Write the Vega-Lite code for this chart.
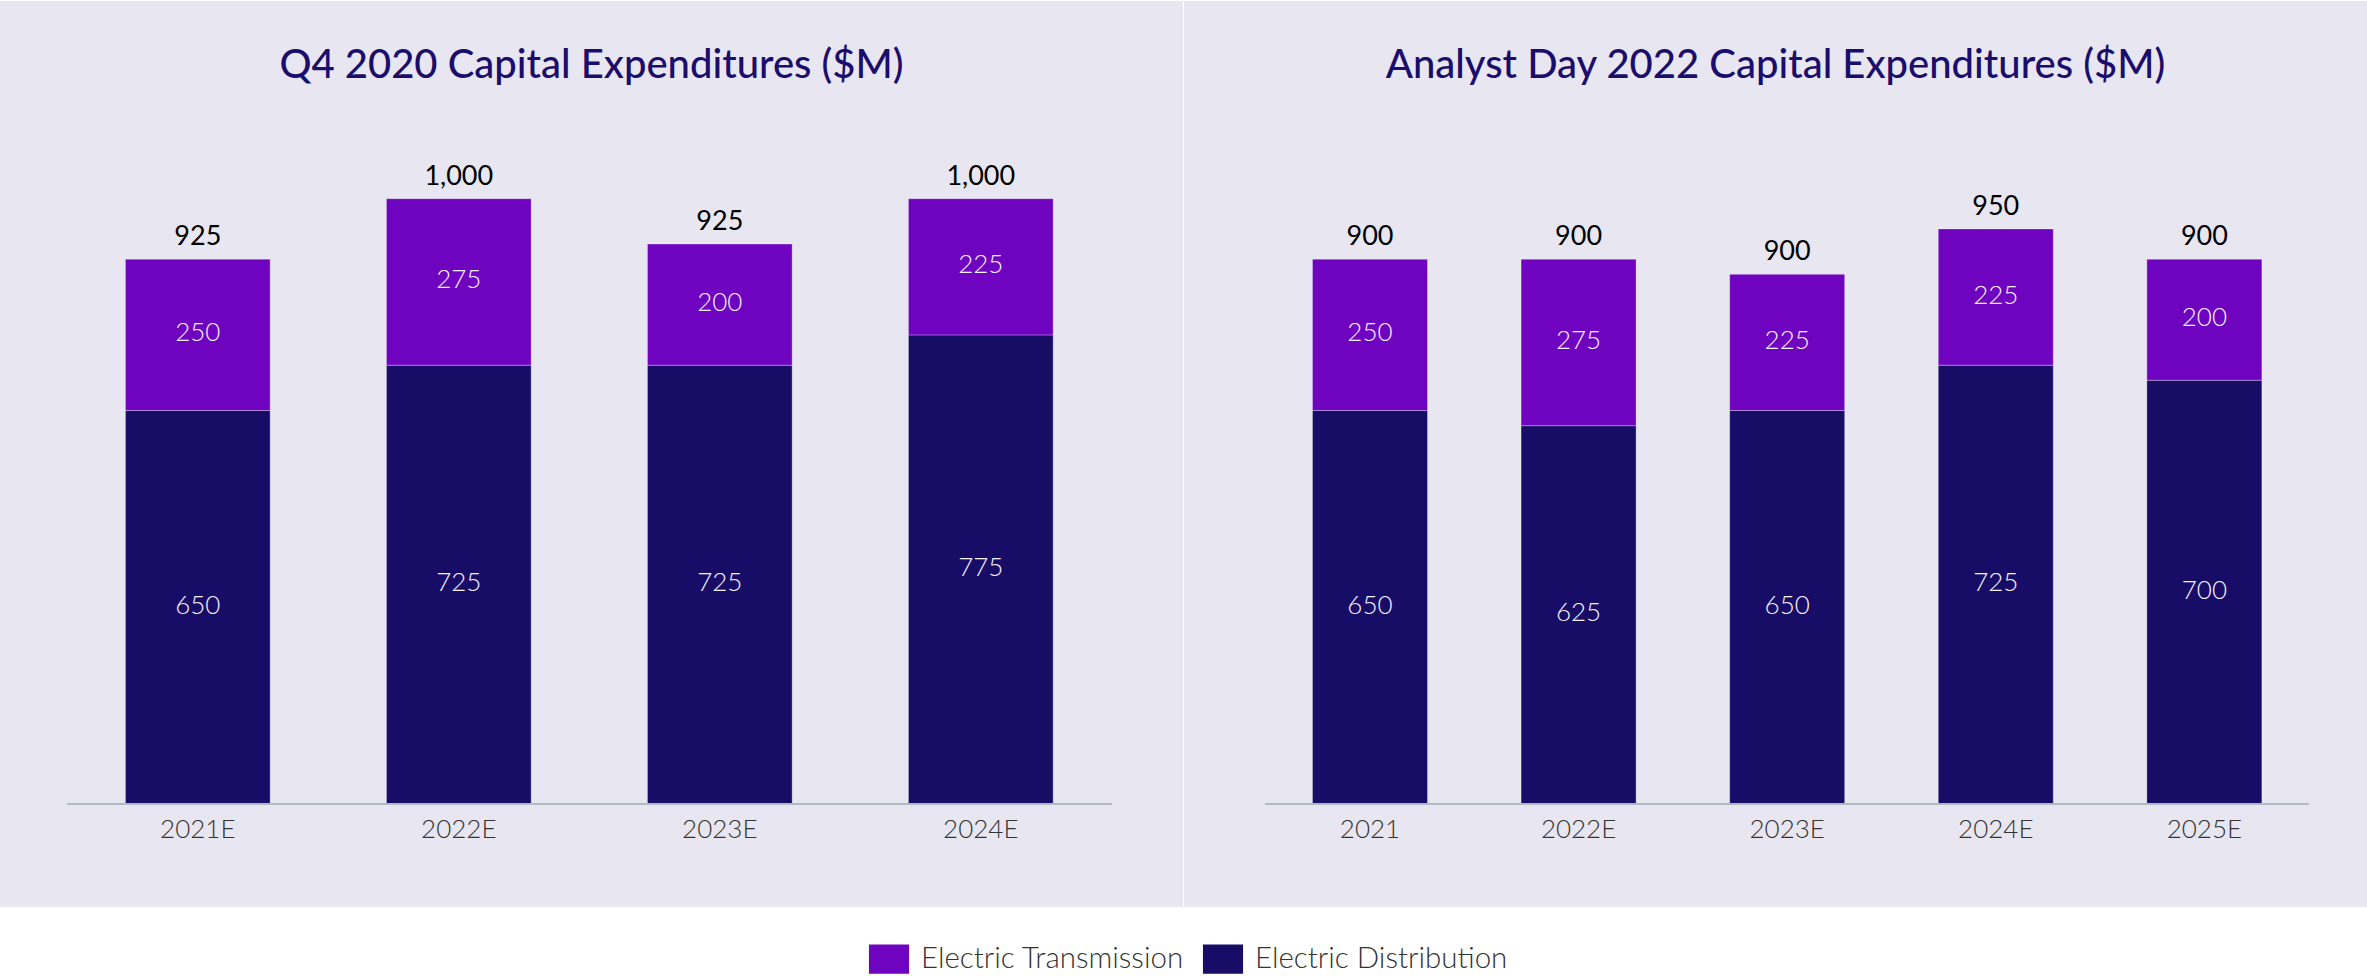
{
  "$schema": "https://vega.github.io/schema/vega-lite/v6.json",
  "padding": {"top": 1, "left": 0, "right": 0, "bottom": 0},
  "background": "#ffffff",
  "datasets": {
    "capex": [
      {"source": "Q4 2020", "year": "2021E", "segment": "Electric Distribution", "value": 650, "total": 925},
      {"source": "Q4 2020", "year": "2021E", "segment": "Electric Transmission", "value": 250, "total": 925},
      {"source": "Q4 2020", "year": "2022E", "segment": "Electric Distribution", "value": 725, "total": 1000},
      {"source": "Q4 2020", "year": "2022E", "segment": "Electric Transmission", "value": 275, "total": 1000},
      {"source": "Q4 2020", "year": "2023E", "segment": "Electric Distribution", "value": 725, "total": 925},
      {"source": "Q4 2020", "year": "2023E", "segment": "Electric Transmission", "value": 200, "total": 925},
      {"source": "Q4 2020", "year": "2024E", "segment": "Electric Distribution", "value": 775, "total": 1000},
      {"source": "Q4 2020", "year": "2024E", "segment": "Electric Transmission", "value": 225, "total": 1000},
      {"source": "Analyst Day 2022", "year": "2021", "segment": "Electric Distribution", "value": 650, "total": 900},
      {"source": "Analyst Day 2022", "year": "2021", "segment": "Electric Transmission", "value": 250, "total": 900},
      {"source": "Analyst Day 2022", "year": "2022E", "segment": "Electric Distribution", "value": 625, "total": 900},
      {"source": "Analyst Day 2022", "year": "2022E", "segment": "Electric Transmission", "value": 275, "total": 900},
      {"source": "Analyst Day 2022", "year": "2023E", "segment": "Electric Distribution", "value": 650, "total": 900},
      {"source": "Analyst Day 2022", "year": "2023E", "segment": "Electric Transmission", "value": 225, "total": 900},
      {"source": "Analyst Day 2022", "year": "2024E", "segment": "Electric Distribution", "value": 725, "total": 950},
      {"source": "Analyst Day 2022", "year": "2024E", "segment": "Electric Transmission", "value": 225, "total": 950},
      {"source": "Analyst Day 2022", "year": "2025E", "segment": "Electric Distribution", "value": 700, "total": 900},
      {"source": "Analyst Day 2022", "year": "2025E", "segment": "Electric Transmission", "value": 200, "total": 900}
    ]
  },
  "spacing": 1,
  "hconcat": [
    {
      "width": 1183,
      "height": 906,
      "view": {"fill": "#e8e6f0", "stroke": null},
      "title": {"text": "Q4 2020 Capital Expenditures ($M)", "anchor": "middle", "offset": -117, "baseline": "alphabetic"},
      "data": {"name": "capex"},
      "transform": [{"filter": "datum.source == 'Q4 2020'"}],
      "encoding": {
        "x": {
          "field": "year", "type": "nominal", "sort": null,
          "scale": {"paddingInner": 0.4456, "paddingOuter": 0.4891, "align": 0.4914, "round": false},
          "axis": {"title": null, "domain": false, "ticks": false, "labelAngle": 0, "offset": -103, "labelPadding": 12, "grid": false}
        }
      },
      "layer": [
        {
          "mark": {"type": "bar", "stroke": "#ffffff", "strokeOpacity": 0.3, "strokeWidth": 1},
          "encoding": {
            "y": {"field": "value", "type": "quantitative", "stack": "zero", "scale": {"domain": [-170.2, 1326.6], "nice": false, "zero": false}, "axis": null},
            "color": {"field": "segment", "type": "nominal", "scale": {"domain": ["Electric Transmission", "Electric Distribution"], "range": ["#6e04c0", "#170d66"]}, "legend": {"title": null}},
            "order": {"field": "segment", "sort": "ascending"}
          }
        },
        {
          "mark": {"type": "text", "font": "Lato", "fontSize": 26, "fontWeight": 300, "color": "#f5f0fd", "baseline": "middle", "dy": -1.5},
          "encoding": {
            "y": {"field": "value", "type": "quantitative", "stack": "zero", "bandPosition": 0.5},
            "detail": {"field": "segment"},
            "order": {"field": "segment", "sort": "ascending"},
            "text": {"field": "value", "type": "quantitative", "format": ","}
          }
        },
        {
          "transform": [{"aggregate": [{"op": "sum", "field": "value", "as": "top"}, {"op": "max", "field": "total", "as": "label"}], "groupby": ["year"]}],
          "mark": {"type": "text", "font": "Lato", "fontSize": 27, "fontWeight": 400, "color": "#000000", "baseline": "alphabetic", "dy": -14},
          "encoding": {
            "y": {"field": "top", "type": "quantitative"},
            "text": {"field": "label", "type": "quantitative", "format": ","}
          }
        },
        {
          "mark": {"type": "rule", "color": "#b1bac3", "strokeWidth": 2},
          "encoding": {
            "x": {"datum": "2021E", "bandPosition": -0.4019},
            "x2": {"datum": "2024E", "bandPosition": 1.4019},
            "y": {"datum": 0}
          }
        }
      ]
    },
    {
      "width": 1183,
      "height": 906,
      "view": {"fill": "#e8e6f0", "stroke": null},
      "title": {"text": "Analyst Day 2022 Capital Expenditures ($M)", "anchor": "middle", "offset": -117, "baseline": "alphabetic"},
      "data": {"name": "capex"},
      "transform": [{"filter": "datum.source == 'Analyst Day 2022'"}],
      "encoding": {
        "x": {
          "field": "year", "type": "nominal", "sort": null,
          "scale": {"paddingInner": 0.4487, "paddingOuter": 0.56, "align": 0.55, "round": false},
          "axis": {"title": null, "domain": false, "ticks": false, "labelAngle": 0, "offset": -103, "labelPadding": 12, "grid": false}
        }
      },
      "layer": [
        {
          "mark": {"type": "bar", "stroke": "#ffffff", "strokeOpacity": 0.3, "strokeWidth": 1},
          "encoding": {
            "y": {"field": "value", "type": "quantitative", "stack": "zero", "scale": {"domain": [-170.2, 1326.6], "nice": false, "zero": false}, "axis": null},
            "color": {"field": "segment", "type": "nominal", "scale": {"domain": ["Electric Transmission", "Electric Distribution"], "range": ["#6e04c0", "#170d66"]}, "legend": {"title": null}},
            "order": {"field": "segment", "sort": "ascending"}
          }
        },
        {
          "mark": {"type": "text", "font": "Lato", "fontSize": 26, "fontWeight": 300, "color": "#f5f0fd", "baseline": "middle", "dy": -1.5},
          "encoding": {
            "y": {"field": "value", "type": "quantitative", "stack": "zero", "bandPosition": 0.5},
            "detail": {"field": "segment"},
            "order": {"field": "segment", "sort": "ascending"},
            "text": {"field": "value", "type": "quantitative", "format": ","}
          }
        },
        {
          "transform": [{"aggregate": [{"op": "sum", "field": "value", "as": "top"}, {"op": "max", "field": "total", "as": "label"}], "groupby": ["year"]}],
          "mark": {"type": "text", "font": "Lato", "fontSize": 27, "fontWeight": 400, "color": "#000000", "baseline": "alphabetic", "dy": -14},
          "encoding": {
            "y": {"field": "top", "type": "quantitative"},
            "text": {"field": "label", "type": "quantitative", "format": ","}
          }
        },
        {
          "mark": {"type": "rule", "color": "#b1bac3", "strokeWidth": 2},
          "encoding": {
            "x": {"datum": "2021", "bandPosition": -0.407},
            "x2": {"datum": "2025E", "bandPosition": 1.407},
            "y": {"datum": 0}
          }
        }
      ]
    }
  ],
  "config": {
    "view": {"stroke": null},
    "title": {"font": "Lato", "fontSize": 40, "fontWeight": 500, "color": "#1a0d6b"},
    "axis": {"labelFont": "Lato", "labelFontSize": 26, "labelFontWeight": 300, "labelColor": "#333333"},
    "legend": {
      "orient": "none", "legendX": 874, "legendY": 943, "direction": "horizontal", "padding": 0,
      "symbolType": "M-1.36,-1L1.36,-1L1.36,1L-1.36,1Z", "symbolSize": 870, "symbolStrokeWidth": 0,
      "labelFont": "Lato", "labelFontSize": 29.5, "labelFontWeight": 300, "labelColor": "#333333",
      "labelOffset": 17, "columnPadding": 17, "labelLimit": 600
    }
  }
}
